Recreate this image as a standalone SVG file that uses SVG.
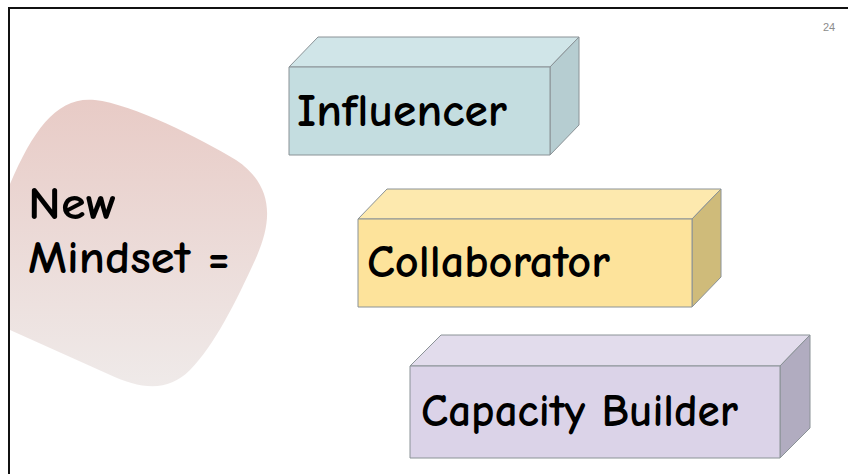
<svg xmlns="http://www.w3.org/2000/svg" width="848" height="474" viewBox="0 0 848 474">
  <defs>
    <linearGradient id="blobFill" x1="0" y1="0" x2="0" y2="1">
      <stop offset="0" stop-color="#e8cbc6"/>
      <stop offset="1" stop-color="#efeae9"/>
    </linearGradient>
    <style>
      .label { font-family: "Comic Sans MS", "Comic Neue", "DejaVu Sans", sans-serif; font-size: 46px; font-weight: bold; fill: #000; }
      .edge { stroke: #8a9296; stroke-width: 1; stroke-linejoin: round; }
      .pageno { font-family: "Liberation Sans", Arial, sans-serif; font-size: 11px; fill: #8c8c8c; }
    </style>
  </defs>

  <rect x="0" y="0" width="848" height="474" fill="#ffffff"/>

  <!-- soft background blob behind the heading -->
  <path id="blob" d="M 10,184 C 34,128 58,96 95,100 C 132,104 200,138 236,160 C 272,184 274,218 256,258 C 236,302 214,346 190,370 C 168,392 142,390 108,374 L 10,330 Z" fill="url(#blobFill)"/>

  <!-- slide frame -->
  <path d="M 9,474 L 9,8 L 848,8" fill="none" stroke="#111" stroke-width="2"/>
  <text class="pageno" x="823" y="31">24</text>

  <g id="heading">
    <text class="label" x="28" y="219" textLength="89" lengthAdjust="spacingAndGlyphs">New</text>
    <text class="label" x="28" y="273" textLength="202" lengthAdjust="spacingAndGlyphs">Mindset =</text>
  </g>

  <g id="influencer">
    <polygon class="edge" points="289,67 318,37 579,37 550,67" fill="#d0e5e8"/>
    <polygon class="edge" points="550,67 579,37 579,125 550,155" fill="#b6cdd1"/>
    <rect class="edge" x="289" y="67" width="261" height="88" fill="#c4dde0"/>
    <text class="label" x="297" y="126" textLength="210" lengthAdjust="spacingAndGlyphs">Influencer</text>
  </g>

  <g id="collaborator">
    <polygon class="edge" points="358,219 387,189 721,189 692,219" fill="#fde9ae"/>
    <polygon class="edge" points="692,219 721,189 721,277 692,307" fill="#cfbb7a"/>
    <rect class="edge" x="358" y="219" width="334" height="88" fill="#fde39b"/>
    <text class="label" x="367" y="277" textLength="243" lengthAdjust="spacingAndGlyphs">Collaborator</text>
  </g>

  <g id="capacity-builder">
    <polygon class="edge" points="410,366 441,335 810,335 780,366" fill="#e2dcec"/>
    <polygon class="edge" points="780,366 810,335 810,428 780,458" fill="#b1acc0"/>
    <rect class="edge" x="410" y="366" width="370" height="92" fill="#dbd3e8"/>
    <text class="label" x="421" y="426" textLength="317" lengthAdjust="spacingAndGlyphs">Capacity Builder</text>
  </g>
</svg>
